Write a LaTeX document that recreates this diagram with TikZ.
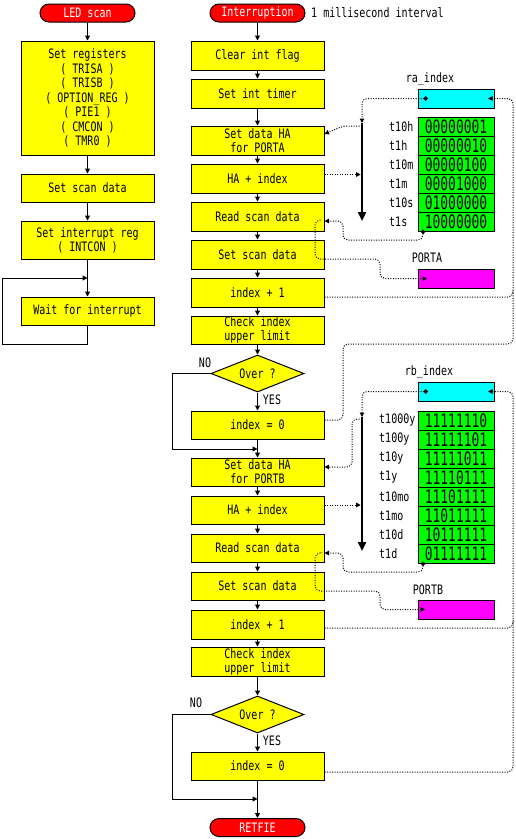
\documentclass[tikz,border=0pt]{standalone}
\usepackage{fontspec}
\newfontfamily\pix[FakeStretch=0.77]{DejaVu Sans Mono}
\newfontfamily\pixd[FakeStretch=0.7]{DejaVu Sans Mono}
\usetikzlibrary{arrows.meta,shapes.geometric}
\definecolor{yel}{RGB}{255,255,0}
\definecolor{tred}{RGB}{255,0,0}
\definecolor{tcyan}{RGB}{0,255,255}
\definecolor{tgreen}{RGB}{0,255,0}
\definecolor{tmag}{RGB}{255,0,255}
\begin{document}
\begin{tikzpicture}[x=1pt,y=-1pt,
 font={\pix\fontsize{13pt}{14pt}\selectfont},
 box/.style={draw,fill=yel,line width=1pt,minimum width=133pt,minimum height=29pt,inner sep=0pt,align=center},
 term/.style={draw,fill=tred,text=white,line width=1pt,rounded corners=9pt,minimum width=95pt,minimum height=18pt,inner sep=0pt},
 dec/.style={diamond,draw,fill=yel,line width=1pt,aspect=2.5,minimum width=93pt,minimum height=37pt,inner sep=0pt},
 flow/.style={line width=1pt,-{Triangle[width=5pt,length=5pt]}},
 dat/.style={line width=1pt,dash pattern=on 1pt off 1.5pt,rounded corners=5pt},
 da/.style={-{Triangle[width=4.5pt,length=4.5pt]}},
 dca/.style={{Circle[length=4.5pt]}-{Triangle[width=4.5pt,length=4.5pt]}},
 bar/.style={line width=2.6pt,-{Triangle[width=8pt,length=9pt]}},
 reg/.style={draw,fill=tcyan,line width=1pt,minimum width=76pt,minimum height=19pt,inner sep=0pt},
 cell/.style={draw,fill=tgreen,line width=1pt,minimum width=76pt,minimum height=19pt,inner sep=0pt,font={\pixd\fontsize{18.5pt}{18.5pt}\selectfont}},
 port/.style={draw,fill=tmag,line width=1pt,minimum width=76pt,minimum height=19pt,inner sep=0pt},
 lbl/.style={inner sep=0pt}
]
\useasboundingbox[fill=white] (0,0) rectangle (515,839);

% ---------- left column ----------
\node[term] (led) at (87.5,13) {LED scan};
\node[box,minimum height=114pt,font={\pix\fontsize{13pt}{14.5pt}\selectfont}] (l1) at (87.5,98)
  {Set registers\\( TRISA )\\( TRISB )\\( OPTION\_REG )\\( PIE1 )\\( CMCON )\\( TMR0 )};
\node[box,minimum height=28pt] (l2) at (87.5,188) {Set scan data};
\node[box,minimum height=38pt] (l3) at (87.5,240) {Set interrupt reg\\( INTCON )};
\node[box,minimum height=28pt] (l4) at (87.5,311) {Wait for interrupt};
\coordinate (lj) at (87.5,278);

% ---------- right column ----------
\node[term] (int) at (257.5,13) {Interruption};
\node[lbl,anchor=west] (intnote) at (311,13) {1 millisecond interval};
\node[box] (c1) at (257.5,55.5) {Clear int flag};
\node[box] (c2) at (257.5,93.5) {Set int timer};
\node[box] (c3) at (257.5,140.5) {Set data HA\\for PORTA};
\node[box] (c4) at (257.5,178.5) {HA + index};
\node[box] (c5) at (257.5,216.5) {Read scan data};
\node[box] (c6) at (257.5,254.5) {Set scan data};
\node[box] (c7) at (257.5,292.5) {index + 1};
\node[box,minimum height=28pt] (c8) at (257.5,330) {Check index\\upper limit};
\node[dec] (d1) at (257.5,373.5) {Over ?};
\node[box,minimum height=28pt] (c9) at (257.5,425) {index = 0};
\node[box,minimum height=28pt] (c10) at (257.5,472) {Set data HA\\for PORTB};
\node[box,minimum height=28pt] (c11) at (257.5,510) {HA + index};
\node[box,minimum height=28pt] (c12) at (257.5,548) {Read scan data};
\node[box,minimum height=28pt] (c13) at (257.5,586) {Set scan data};
\node[box] (c14) at (257.5,624.5) {index + 1};
\node[box] (c15) at (257.5,661.5) {Check index\\upper limit};
\node[dec] (d2) at (257.5,714.5) {Over ?};
\node[box,minimum height=28pt] (c16) at (257.5,766) {index = 0};
\node[term] (ret) at (257.5,827.5) {RETFIE};
\node[lbl] (no1) at (205,363) {NO};
\node[lbl] (yes1) at (272,400) {YES};
\node[lbl] (no2) at (196,703) {NO};
\node[lbl] (yes2) at (272,741) {YES};
\coordinate (jn1) at (257.5,449);
\coordinate (jn2) at (257.5,799);

% ---------- registers / tables ----------
\node[lbl] (ralbl) at (430,79) {ra\_index};
\node[reg] (ra) at (456,98.5) {};
\foreach \v/\t [count=\i] in {00000001/t10h,00000010/t1h,00000100/t10m,00001000/t1m,01000000/t10s,10000000/t1s}{
  \node[cell] (ra\i) at (456,{107.5+19*\i}) {\v};
  \node[lbl,anchor=west] (ral\i) at (389,{107.5+19*\i}) {\t};
}
\node[lbl] (portalbl) at (427,258) {PORTA};
\node[port] (porta) at (456,278.5) {};

\node[lbl] (rblbl) at (429,372) {rb\_index};
\node[reg] (rb) at (456,391.5) {};
\foreach \v/\t [count=\i] in {11111110/t1000y,11111101/t100y,11111011/t10y,11110111/t1y,11101111/t10mo,11011111/t1mo,10111111/t10d,01111111/t1d}{
  \node[cell] (rb\i) at (456,{401.5+19*\i}) {\v};
  \node[lbl,anchor=west] (rbl\i) at (379,{401.5+19*\i}) {\t};
}
\node[lbl] (portblbl) at (428,590) {PORTB};
\node[port] (portb) at (456,609.5) {};

\coordinate (bat) at (362,123);
\coordinate (bab) at (362,221);
\coordinate (bbt) at (362,417);
\coordinate (bbb) at (362,551);

% ---------- flow connectors ----------
\draw[flow] (led) -- (l1);
\draw[flow] (l1) -- (l2);
\draw[flow] (l2) -- (l3);
\draw[flow] (l3) -- (l4);
\draw[flow] (l4.south) |- (2.5,344) |- (lj);

\foreach \a/\b in {int/c1,c1/c2,c2/c3,c3/c4,c4/c5,c5/c6,c6/c7,c7/c8,c8/d1,d1/c9,c9/c10,c10/c11,c11/c12,c12/c13,c13/c14,c14/c15,c15/d2,d2/c16,c16/ret}
  \draw[flow] (\a) -- (\b);
\draw[flow] (d1.west) -| (172,449) -- (jn1);
\draw[flow] (d2.west) -| (172,799) -- (jn2);

% ---------- data connectors (PORTA) ----------
\draw[bar] (bat) -- (bab);
\draw[dat,dca] ([xshift=-28pt]ra.center) -| (bat);
\draw[dat,da] ([yshift=-3pt]bat) -- (343,126) -- ([yshift=6.5pt]c3.east);
\draw[dat,da,shorten >=1.3pt] ([yshift=4pt]c4.east) coordinate (h1) -- (h1 -| bat);
\draw[dat,dca] ([xshift=-33pt,yshift=2pt]ra6.south) -- (423,240) -- (343,240) -- (343,221) -- ([yshift=-4.5pt]c5.east);
\draw[dat,da] ([xshift=-4pt,yshift=-3.5pt]c5.east) -- (315,220) -- (315,259) -- (380,259) -- (380,278.5) -- ([xshift=-29pt]porta.center);
\draw[dat,da] ([yshift=-4.5pt]c7.east) -- (513,297) -- (513,98.5) -- ([xshift=32pt]ra.center);
\draw[dat] ([yshift=5pt]c9.east) -- (343,420) -- (343,344) -- (513,344) -- (513,290);

% ---------- data connectors (PORTB) ----------
\draw[bar] (bbt) -- (bbb);
\draw[dat,dca] ([xshift=-28pt]rb.center) -| (bbt);
\draw[dat,da] ([yshift=-2pt]bbt) -- (352,419) -- (352,467) -- ([yshift=5pt]c10.east);
\draw[dat,da,shorten >=1.3pt] ([yshift=5pt]c11.east) coordinate (h2) -- (h2 -| bbt);
\draw[dat,dca] ([xshift=-33pt,yshift=2pt]rb8.south) -- (423,572) -- (343,572) -- (343,553) -- ([yshift=-5pt]c12.east);
\draw[dat,da] ([xshift=-5pt,yshift=-5pt]c12.east) -- (315,553) -- (315,591) -- (380,591) -- (380,609.5) -- ([xshift=-31pt]portb.center);
\draw[dat,da] ([yshift=-3.5pt]c14.east) -- (513,628) -- (513,391.5) -- ([xshift=32pt]rb.center);
\draw[dat] ([yshift=-6pt]c16.east) -- (513,772) -- (513,620);
\end{tikzpicture}
\end{document}
